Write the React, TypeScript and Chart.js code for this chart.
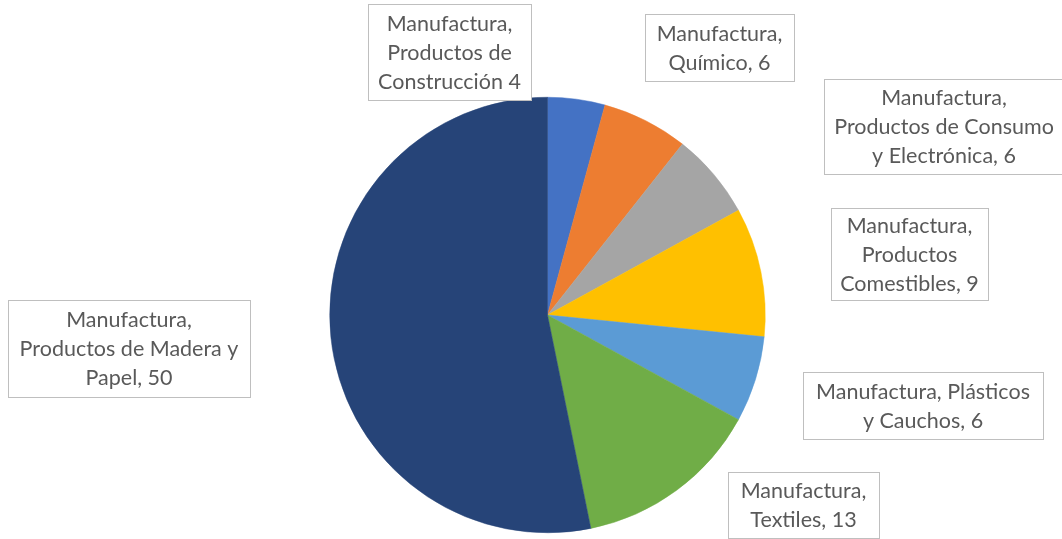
import React, { useEffect, useRef } from "react";
import { Chart, registerables } from "chart.js";

Chart.register(...registerables);

const categories = [
  "Manufactura, Productos de Construcción",
  "Manufactura, Químico",
  "Manufactura, Productos de Consumo y Electrónica",
  "Manufactura, Productos Comestibles",
  "Manufactura, Plásticos y Cauchos",
  "Manufactura, Textiles",
  "Manufactura, Productos de Madera y Papel",
];
const values = [4, 6, 6, 9, 6, 13, 50];
const colors = ["#4472C4", "#ED7D31", "#A5A5A5", "#FFC000", "#5B9BD5", "#70AD47", "#264478"];

// label text lines (value appended to last line with separator)
const labelLines = [
  ["Manufactura,", "Productos de", "Construcción"],
  ["Manufactura,", "Químico,"],
  ["Manufactura,", "Productos de Consumo", "y Electrónica,"],
  ["Manufactura,", "Productos", "Comestibles,"],
  ["Manufactura, Plásticos", "y Cauchos,"],
  ["Manufactura,", "Textiles,"],
  ["Manufactura,", "Productos de Madera y", "Papel,"],
];

// label box layout [x, y, w, h]
const labelBoxes = [
  [368, 4, 163, 96],
  [645, 14, 149, 67],
  [824, 79, 240, 95],
  [831, 208, 157, 92],
  [803, 372, 240, 67],
  [728, 472, 151, 66],
  [8, 300, 242, 97],
];

const labelPlugin = {
  id: "boxLabels",
  afterDraw(chart: any) {
    const ctx = chart.ctx;
    const data = chart.data.datasets[0].data as number[];
    ctx.save();
    labelLines.forEach((lines, i) => {
      const [x, y, w, h] = labelBoxes[i];
      ctx.fillStyle = "#FFFFFF";
      ctx.fillRect(x + 0.5, y + 0.5, w, h);
      ctx.strokeStyle = "#BFBFBF";
      ctx.lineWidth = 1;
      ctx.strokeRect(x + 0.5, y + 0.5, w, h);
      const all = lines.slice();
      all[all.length - 1] = all[all.length - 1] + " " + data[i];
      const lh = 29;
      const cx = x + w / 2;
      const cy = y + h / 2;
      const startY = cy - ((all.length - 1) * lh) / 2;
      ctx.fillStyle = "#595959";
      ctx.font = "21.5px Lato";
      ctx.textAlign = "center";
      ctx.textBaseline = "middle";
      all.forEach((t, k) => ctx.fillText(t, cx, startY + k * lh + 1));
    });
    ctx.restore();
  },
};

export default function App() {
  const ref = useRef<HTMLCanvasElement | null>(null);
  useEffect(() => {
    document.body.style.margin = "0";
    const chart = new Chart(ref.current!, {
      type: "pie",
      data: {
        labels: categories,
        datasets: [
          {
            data: values,
            backgroundColor: colors,
            borderColor: colors,
            borderWidth: 0.5,
          },
        ],
      },
      options: {
        animation: false,
        responsive: false,
        layout: { padding: { left: 329, right: 296, top: 97, bottom: 6 } },
        plugins: { legend: { display: false }, tooltip: { enabled: false } },
      },
      plugins: [labelPlugin],
    });
    return () => chart.destroy();
  }, []);
  return (
    <div style={{ width: 1062, height: 539 }}>
      <canvas ref={ref} width={1062} height={539} style={{ width: 1062, height: 539 }} />
    </div>
  );
}
